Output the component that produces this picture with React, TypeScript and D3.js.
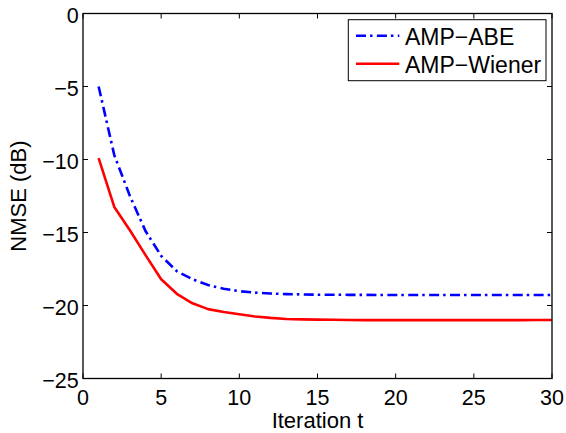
import React from "react";
import * as d3 from "d3";

const iterations = [1, 2, 3, 4, 5, 6, 7, 8, 9, 10, 11, 12, 13, 14, 15, 16, 17, 18, 19, 20, 21, 22, 23, 24, 25, 26, 27, 28, 29, 30];
const ampAbe = [-5.0, -9.7, -12.5, -14.9, -16.6, -17.65, -18.2, -18.6, -18.85, -19.02, -19.12, -19.18, -19.22, -19.24, -19.26, -19.26, -19.27, -19.27, -19.28, -19.28, -19.28, -19.28, -19.28, -19.28, -19.28, -19.28, -19.28, -19.28, -19.28, -19.28];
const ampWiener = [-9.9, -13.25, -14.85, -16.55, -18.2, -19.2, -19.85, -20.25, -20.45, -20.6, -20.75, -20.85, -20.92, -20.95, -20.97, -20.98, -20.99, -21.0, -21.0, -21.0, -21.0, -21.0, -21.0, -21.0, -21.0, -21.0, -21.0, -21.0, -20.99, -20.99];
const seriesNames = ["AMP\u2212ABE", "AMP\u2212Wiener"];
const xTicks = [0, 5, 10, 15, 20, 25, 30];
const yTicks = [0, -5, -10, -15, -20, -25];
const xLabel = "Iteration t";
const yLabel = "NMSE (dB)";

const W = 566;
const H = 433;
const L = 83, R = 552, T = 13.5, B = 378.5;
const FONT = "'Liberation Sans', Arial, Helvetica, sans-serif";
const FS = 21.5;
const LFS = 22;
const LEGFS = 23;
const TICK = 5;

export default function App() {
  const x = d3.scaleLinear().domain([0, 30]).range([L, R]);
  const y = d3.scaleLinear().domain([-25, 0]).range([B, T]);
  const line = d3
    .line<number>()
    .x((_, i) => x(iterations[i]))
    .y((d) => y(d));
  const fmt = (v: number) => (v < 0 ? "\u2212" + Math.abs(v) : String(v));
  const dash = "10,4,2.5,4.4";
  const legX = 348.3, legY = 19.7, legW = 197.7, legH = 61;
  const lineRows = [35.7, 63.7];
  const textRows = [45.3, 73];

  return (
    <svg
      width={W}
      height={H}
      style={{ position: "absolute", left: 0, top: 0, display: "block", background: "#fff" }}
      fontFamily={FONT}
    >
      <rect x={0} y={0} width={W} height={H} fill="#fff" />
      {/* data */}
      <path d={line(ampAbe) || ""} fill="none" stroke="#0000ff" strokeWidth={2.6} strokeDasharray={dash} />
      <path d={line(ampWiener) || ""} fill="none" stroke="#ff0000" strokeWidth={2.6} strokeLinejoin="round" />
      {/* frame */}
      <rect x={L} y={T} width={R - L} height={B - T} fill="none" stroke="#000" strokeWidth={1.3} />
      {/* x ticks */}
      {xTicks.map((t) => (
        <g key={"x" + t}>
          <line x1={x(t)} x2={x(t)} y1={B} y2={B - TICK} stroke="#000" strokeWidth={1} />
          <line x1={x(t)} x2={x(t)} y1={T} y2={T + TICK} stroke="#000" strokeWidth={1} />
          <text x={x(t)} y={405} textAnchor="middle" fontSize={FS} fill="#000">
            {fmt(t)}
          </text>
        </g>
      ))}
      {/* y ticks */}
      {yTicks.map((t) => (
        <g key={"y" + t}>
          <line x1={L} x2={L + TICK} y1={y(t)} y2={y(t)} stroke="#000" strokeWidth={1} />
          <line x1={R} x2={R - TICK} y1={y(t)} y2={y(t)} stroke="#000" strokeWidth={1} />
          <text x={78.7} y={y(t) + 1.5 + 7.7} textAnchor="end" fontSize={FS} fill="#000">
            {fmt(t)}
          </text>
        </g>
      ))}
      {/* axis labels */}
      <text x={(L + R) / 2} y={427.7} textAnchor="middle" fontSize={LFS} fill="#000">
        {xLabel}
      </text>
      <text
        x={26}
        y={(T + B) / 2}
        textAnchor="middle"
        fontSize={LFS}
        fill="#000"
        transform={`rotate(-90, 26, ${(T + B) / 2})`}
      >
        {yLabel}
      </text>
      {/* legend */}
      <rect x={legX} y={legY} width={legW} height={legH} fill="#fff" stroke="#000" strokeWidth={1} />
      <line x1={356} x2={399.3} y1={lineRows[0]} y2={lineRows[0]} stroke="#0000ff" strokeWidth={2.6} strokeDasharray={dash} />
      <line x1={356} x2={399.3} y1={lineRows[1]} y2={lineRows[1]} stroke="#ff0000" strokeWidth={2.6} />
      {seriesNames.map((n, i) => (
        <text key={n} x={405} y={textRows[i]} fontSize={LEGFS} fill="#000">
          {n}
        </text>
      ))}
    </svg>
  );
}
